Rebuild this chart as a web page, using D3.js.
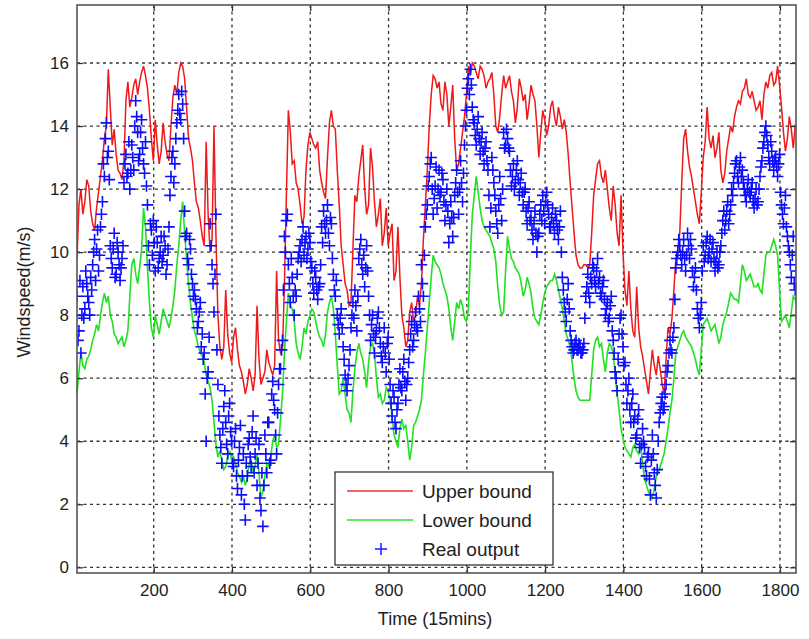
<!DOCTYPE html>
<html>
<head>
<meta charset="utf-8">
<script src="https://cdn.jsdelivr.net/npm/d3@7"></script>
<style>
  html, body { margin: 0; padding: 0; background: #fff; }
  svg { display: block; font-family: "Liberation Sans", Arial, sans-serif; }
</style>
</head>
<body>
<svg id="chart" width="809" height="639"></svg>
<script>
// ---------------- DATA ----------------
const xTicks = [200, 400, 600, 800, 1000, 1200, 1400, 1600, 1800];
const yTicks = [0, 2, 4, 6, 8, 10, 12, 14, 16];
const seriesNames = ["Upper bound", "Lower bound", "Real output"];
const startTime = 4;
const lineStep = 5;    // time step of the merged bound series (15-min samples)
const pointStep = 2.5; // time step of the merged real output samples

// Upper bound at t = 4, 14, 24, ...
const upperBound = [
  9.8, 12.0, 11.6, 12.1, 10.9, 11.4, 12.4, 13.6, 15.8, 13.4,
  13.1, 12.5, 12.9, 15.4, 14.9, 15.5, 15.4, 15.9, 15.2, 13.6,
  14.2, 12.8, 14.1, 13.1, 14.0, 15.3, 15.7, 15.9, 14.6, 13.3,
  12.2, 11.4, 10.5, 13.5, 10.0, 14.0, 8.0, 6.6, 8.8, 6.8,
  7.3, 6.9, 6.2, 5.5, 6.3, 5.6, 8.3, 5.8, 6.2, 6.5,
  6.1, 9.4, 6.8, 9.0, 14.5, 12.8, 12.2, 11.5, 11.1, 13.4,
  13.6, 13.3, 12.6, 11.9, 13.0, 14.5, 13.9, 11.5, 9.6, 8.8,
  8.4, 11.8, 12.4, 13.4, 11.2, 13.3, 11.6, 11.2, 10.2, 11.4,
  10.6, 9.1, 10.8, 8.0, 7.0, 8.1, 7.8, 8.6, 9.0, 11.5,
  14.0, 15.6, 15.2, 14.7, 15.4, 14.0, 15.3, 12.6, 13.3, 14.3,
  15.9, 16.0, 15.7, 15.9, 15.6, 15.4, 15.7, 14.0, 14.3, 15.6,
  15.4, 15.1, 14.1, 15.5, 14.8, 14.2, 15.3, 14.8, 13.0, 14.5,
  13.7, 14.6, 14.3, 14.6, 13.9, 13.8, 12.2, 10.6, 9.6, 9.5,
  9.6, 9.6, 11.8, 12.8, 12.4, 12.6, 11.4, 12.1, 10.6, 11.8,
  8.8, 9.4, 7.5, 8.9, 7.0, 6.3, 5.5, 6.9, 6.1, 6.3,
  5.5, 7.6, 7.9, 9.8, 10.6, 13.6, 13.2, 12.4, 11.6, 10.9,
  13.0, 14.6, 13.3, 13.0, 13.8, 12.2, 13.2, 14.0, 14.3, 14.8,
  15.1, 15.5, 14.9, 14.8, 14.6, 14.2, 15.4, 15.6, 15.3, 15.9,
  14.6, 13.2, 14.3, 13.3, 13.9
];
// Upper bound at t = 9, 19, 29, ...
const upperBoundMid = [
  11.5, 11.2, 12.3, 11.3, 10.7, 11.9, 12.9, 14.0, 14.6, 13.9,
  12.6, 12.3, 14.8, 14.6, 15.3, 15.0, 15.7, 15.6, 14.5, 12.9,
  13.4, 13.2, 13.5, 12.9, 14.9, 15.0, 16.0, 15.5, 13.6, 12.9,
  11.6, 11.0, 10.2, 11.2, 10.4, 10.5, 7.0, 7.0, 7.4, 6.5,
  7.6, 6.4, 5.9, 5.8, 6.0, 6.1, 6.6, 6.0, 6.9, 6.3,
  6.4, 7.2, 6.9, 11.8, 13.8, 12.9, 12.0, 10.9, 12.6, 13.8,
  13.4, 13.5, 12.2, 11.7, 14.1, 14.0, 12.6, 10.2, 9.0, 8.3,
  10.1, 11.6, 12.9, 12.0, 11.5, 12.7, 10.8, 11.7, 10.6, 10.2,
  10.9, 9.4, 9.2, 7.6, 7.2, 8.4, 8.0, 8.3, 10.4, 12.6,
  15.0, 15.5, 15.4, 14.5, 15.0, 14.6, 13.6, 12.8, 13.8, 15.0,
  15.6, 15.9, 15.5, 15.8, 15.2, 15.5, 15.0, 13.8, 15.0, 15.2,
  15.6, 14.8, 14.6, 15.2, 15.0, 14.7, 15.0, 14.0, 13.8, 14.2,
  14.0, 14.8, 14.0, 14.3, 14.2, 13.1, 11.4, 9.9, 9.5, 9.6,
  9.5, 10.6, 12.3, 12.9, 12.2, 12.0, 11.0, 11.5, 10.2, 10.0,
  8.3, 8.2, 7.3, 7.6, 6.7, 5.9, 6.2, 6.4, 6.7, 5.8,
  6.6, 7.4, 8.8, 10.1, 12.2, 13.9, 12.7, 12.0, 11.2, 11.9,
  13.5, 13.6, 13.7, 13.3, 12.6, 12.5, 13.6, 13.8, 14.6, 14.7,
  15.2, 15.0, 15.1, 14.5, 14.8, 15.0, 15.2, 15.7, 15.4, 15.3,
  13.8, 13.6, 13.9, 14.0
];

// Lower bound at t = 4, 14, 24, ...
const lowerBound = [
  5.5, 6.8, 6.3, 6.7, 7.2, 7.7, 8.0, 8.7, 8.6, 7.8,
  7.3, 7.2, 7.0, 7.5, 9.6, 9.3, 9.5, 11.4, 9.5, 7.6,
  8.0, 7.4, 8.2, 7.8, 7.9, 8.8, 10.2, 11.6, 9.8, 8.4,
  7.5, 7.0, 6.7, 6.1, 5.7, 4.6, 3.5, 3.4, 3.2, 3.7,
  3.5, 3.0, 2.7, 2.6, 3.3, 3.0, 3.6, 2.2, 2.9, 3.2,
  4.0, 3.8, 4.7, 6.8, 8.7, 8.2, 7.1, 6.6, 7.6, 7.8,
  8.2, 7.8, 7.3, 7.0, 8.1, 8.6, 7.4, 5.5, 6.0, 5.0,
  4.6, 6.3, 7.1, 6.6, 5.7, 7.0, 6.8, 5.4, 5.2, 5.7,
  5.3, 4.2, 3.8, 4.7, 4.5, 3.4, 4.5, 4.8, 5.3, 6.8,
  8.4, 9.9, 9.6, 9.3, 8.8, 8.2, 7.2, 8.4, 8.5, 7.9,
  8.2, 11.2, 12.4, 11.4, 10.8, 10.6, 10.3, 9.7, 8.3, 8.1,
  10.5, 9.8, 9.5, 9.3, 8.6, 9.2, 8.7, 7.9, 7.7, 8.4,
  8.9, 9.1, 9.3, 8.8, 8.2, 7.4, 7.0, 6.0, 5.4, 5.3,
  5.3, 5.3, 6.9, 7.3, 7.1, 6.2, 7.1, 6.8, 5.5, 4.4,
  3.8, 3.6, 3.8, 3.7, 3.9, 2.8, 2.4, 2.2, 2.9, 3.2,
  3.6, 4.4, 5.3, 6.8, 7.2, 7.5, 7.2, 7.0, 6.6, 6.1,
  7.7, 7.9, 7.5, 7.7, 7.1, 7.7, 8.1, 8.7, 8.5, 8.4,
  9.6, 9.1, 9.3, 8.9, 9.0, 8.7, 9.9, 10.0, 10.4, 9.9,
  7.8, 8.0, 7.6, 8.6, 8.3
];
// Lower bound at t = 9, 19, 29, ...
const lowerBoundMid = [
  6.2, 6.4, 6.6, 6.9, 7.4, 7.5, 8.4, 8.4, 8.0, 7.4,
  7.1, 7.3, 7.2, 8.6, 9.8, 9.0, 10.1, 10.8, 8.4, 7.3,
  7.7, 7.8, 8.0, 7.6, 8.3, 9.6, 11.0, 10.6, 9.0, 7.9,
  7.3, 6.8, 6.5, 5.9, 5.3, 3.9, 3.7, 3.1, 3.5, 3.4,
  3.3, 2.9, 2.9, 2.8, 3.4, 3.2, 3.0, 2.4, 3.3, 3.5,
  4.2, 3.9, 5.5, 7.8, 8.3, 7.8, 6.8, 7.0, 7.4, 8.0,
  8.1, 7.5, 7.2, 7.4, 8.4, 8.2, 6.4, 5.6, 5.5, 4.9,
  5.6, 6.8, 6.8, 6.2, 6.5, 7.1, 6.0, 5.5, 5.3, 5.6,
  4.8, 4.0, 4.4, 4.4, 4.0, 3.8, 4.6, 5.0, 6.1, 7.6,
  9.2, 9.7, 9.5, 9.0, 8.6, 7.6, 7.8, 8.2, 8.3, 7.8,
  9.8, 11.8, 11.9, 11.0, 10.7, 10.5, 10.1, 8.9, 8.0, 9.4,
  10.1, 9.7, 9.4, 9.0, 8.8, 9.0, 8.2, 7.8, 8.0, 8.7,
  9.0, 9.1, 9.1, 8.5, 7.8, 7.2, 6.5, 5.6, 5.3, 5.3,
  5.3, 6.1, 7.2, 7.0, 6.6, 6.8, 7.0, 6.1, 5.0, 4.1,
  3.7, 3.5, 3.9, 3.6, 3.3, 2.6, 2.3, 2.5, 3.0, 3.4,
  4.0, 4.9, 6.0, 7.0, 7.4, 7.3, 7.1, 6.8, 6.3, 6.9,
  7.8, 7.7, 7.6, 7.4, 7.3, 7.9, 8.4, 8.6, 8.5, 9.0,
  9.4, 9.2, 9.1, 8.9, 8.8, 9.3, 10.0, 10.2, 10.2, 8.8,
  7.9, 7.8, 8.1, 8.5
];

// Real output at t = 4, 9, 14, ...
const realOutput = [
  8.6, 7.5, 6.8, 8.9,   8.2, 9.0, 8.4, 9.2,   9.6, 10.4, 10.1, 9.4,
  10.8, 11.6, 12.4, 14.1,   13.2, 10.2, 9.5, 10.6,   9.3, 10.0, 9.1, 9.8,
  12.2, 13.1, 12.5, 12.0,   13.4, 12.6, 14.8, 13.8,   13.1, 14.2, 12.8, 13.5,
  11.5, 9.6, 10.7, 11.0,   9.4, 10.3, 9.8, 10.5,   9.9, 10.2, 9.6, 10.8,
  12.4, 13.2, 12.8, 14.1,   15.0, 14.2, 14.7, 11.3,   10.6, 9.6, 10.1, 9.0,
  8.8, 8.2, 7.8, 8.4,   7.4, 6.8, 4.0, 6.2,   10.9, 9.6, 8.1, 11.2,
  5.8, 4.2, 3.3, 5.1,   4.6, 3.6, 5.2, 4.0,   3.2, 4.4, 2.5, 3.8,
  2.3, 3.6, 1.5, 2.9,   4.1, 3.2, 4.8, 3.6,   2.6, 3.9, 1.8, 1.3,
  4.2, 3.0, 4.6, 3.4,   5.9, 5.0, 3.6, 5.8,   6.3, 7.2, 10.5, 11.0,
  9.6, 8.4, 9.2, 8.0,   8.6, 9.8, 10.2, 10.4,   9.9, 10.5, 10.1, 10.3,
  9.5, 8.7, 9.2, 8.5,   9.0, 10.8, 11.3, 10.6,   11.5, 10.2, 10.9, 9.3,
  8.6, 8.0, 7.4, 8.2,   7.0, 6.1, 5.6, 6.4,   7.6, 8.4, 8.8, 7.5,
  9.8, 10.4, 9.3, 8.9,   10.2, 8.6, 7.2, 8.0,   6.8, 7.5, 8.1, 7.1,
  6.5, 7.6, 6.2, 7.3,   5.8, 4.8, 5.4, 4.4,   5.2, 6.3, 5.6, 6.6,
  5.3, 6.0, 6.9, 7.8,   7.2, 8.1, 7.5, 8.2,   9.6, 8.6, 10.8, 11.5,
  12.4, 13.0, 11.2, 12.1,   11.4, 12.6, 11.9, 12.3,   11.0, 12.0, 10.3, 11.6,
  10.5, 11.8, 12.6, 11.2,   12.9, 11.6, 13.4, 14.5,   15.5, 15.8, 14.6, 14.1,
  13.4, 14.3, 13.1, 13.8,   12.8, 13.5, 12.6, 10.8,   13.0, 12.2, 11.3, 10.6,
  12.4, 11.0, 13.8, 13.4,   13.6, 13.2, 12.1, 12.8,   12.2, 12.9, 11.8, 12.5,
  11.5, 12.0, 10.9, 11.6,   11.1, 10.4, 11.3, 10.0,   10.6, 11.5, 11.8, 10.9,
  11.9, 11.2, 10.8, 11.4,   10.6, 11.0, 10.4, 11.3,   9.2, 8.4, 7.8, 9.0,
  7.5, 7.0, 6.9, 7.2,   6.9, 7.0, 6.8, 7.1,   8.6, 9.3, 8.4, 9.0,
  9.5, 8.9, 9.8, 9.2,   8.6, 9.1, 8.0, 8.4,   7.9, 8.6, 7.2, 6.2,
  5.6, 7.4, 8.0, 7.0,   6.5, 5.2, 6.0, 4.6,   5.5, 4.8, 4.2, 5.0,
  3.3, 4.4, 3.8, 2.9,   3.6, 2.3, 4.2, 3.0,   2.2, 4.0, 4.9, 5.4,
  5.1, 5.8, 6.4, 7.2,   6.8, 7.6, 9.5, 10.0,   10.2, 9.6, 10.4, 9.4,
  10.6, 9.8, 10.1, 8.9,   9.5, 8.2, 7.6, 8.4,   10.2, 9.9, 10.5, 10.0,
  9.7, 10.3, 9.4, 10.0,   9.6, 10.2, 11.0, 10.7,   11.3, 10.9, 11.5, 11.8,
  12.5, 12.9, 12.2, 13.0,   12.6, 12.0, 11.6, 12.3,   11.8, 12.2, 11.4, 12.0,
  11.6, 12.4, 12.9, 13.5,   14.0, 13.4, 12.8, 13.2,   12.6, 13.0, 12.4, 13.1,
  11.5, 10.9, 11.8, 10.5,   10.0, 9.2, 10.5, 8.8
];
// Real output at t = 6.5, 11.5, 16.5, ...
const realOutputMid = [
  7.2, 9.1, 8.0, 7.9,   9.4, 8.6, 8.0, 8.8,   10.0, 9.1, 10.7, 9.9,
  11.2, 12.8, 13.6, 13.0,   12.3, 9.8, 10.1, 9.2,   10.3, 9.6, 9.5, 10.2,
  12.8, 12.4, 13.5, 12.6,   13.0, 14.0, 14.3, 12.9,   13.8, 13.3, 12.5, 12.1,
  10.2, 10.9, 9.9, 10.3,   10.8, 9.5, 10.0, 9.7,   10.5, 9.3, 10.1, 11.8,
  13.0, 12.2, 13.6, 14.5,   14.4, 15.1, 13.6, 10.5,   9.8, 10.4, 9.3, 8.6,
  8.5, 7.6, 8.1, 7.0,   6.6, 5.5, 6.0, 7.3,   10.2, 9.0, 9.3, 6.9,
  4.8, 3.8, 4.4, 5.6,   3.9, 4.8, 4.3, 3.3,   4.0, 2.9, 3.4, 4.5,
  2.9, 2.0, 3.3, 3.9,   3.5, 4.3, 3.0, 4.1,   3.3, 2.2, 3.0, 2.6,
  3.6, 4.6, 3.3, 5.5,   5.3, 4.2, 4.9, 6.3,   6.9, 8.8, 10.0, 11.2,
  9.0, 9.8, 8.6, 8.8,   9.3, 10.0, 9.7, 10.8,   10.3, 9.8, 10.6, 9.7,
  9.0, 9.4, 8.8, 8.9,   9.6, 10.3, 10.9, 11.0,   10.6, 11.1, 9.8, 8.8,
  9.1, 7.7, 7.9, 7.6,   6.6, 5.8, 6.0, 6.9,   8.0, 7.9, 8.3, 8.6,
  10.1, 9.6, 9.9, 9.5,   9.4, 8.0, 7.7, 7.4,   7.3, 7.9, 7.6, 6.7,
  7.0, 6.8, 7.1, 6.6,   5.2, 5.6, 4.6, 5.0,   5.8, 5.7, 6.2, 5.9,
  5.8, 6.5, 7.4, 7.0,   7.7, 7.6, 8.6, 7.8,   9.0, 9.9, 11.2, 12.1,
  12.8, 12.0, 11.7, 12.7,   12.0, 11.8, 12.5, 11.6,   11.5, 11.3, 10.9, 11.1,
  11.1, 12.2, 11.9, 12.0,   12.2, 12.5, 14.0, 15.2,   15.0, 15.3, 14.2, 13.7,
  13.9, 13.6, 13.5, 13.2,   13.3, 12.9, 11.8, 11.4,   12.6, 11.8, 10.9, 11.5,
  11.7, 12.0, 13.3, 13.9,   13.3, 12.6, 12.4, 12.0,   12.6, 12.3, 12.2, 11.9,
  11.9, 11.3, 11.4, 11.0,   10.7, 10.9, 10.6, 10.5,   11.2, 11.0, 11.3, 11.6,
  11.5, 10.8, 11.1, 10.9,   11.2, 10.7, 10.8, 10.0,   8.8, 8.1, 8.5, 8.2,
  7.2, 6.8, 7.1, 6.9,   7.1, 6.8, 6.9, 7.9,   8.9, 8.7, 9.2, 9.6,
  9.1, 9.4, 9.0, 8.7,   8.9, 8.5, 8.2, 7.8,   8.3, 7.5, 6.8, 6.0,
  6.6, 7.9, 7.4, 6.4,   5.8, 5.6, 5.0, 5.2,   4.6, 4.1, 4.7, 3.8,
  3.9, 4.0, 3.2, 3.5,   2.8, 3.4, 3.6, 2.6,   3.1, 4.6, 5.2, 5.0,
  5.5, 6.2, 6.8, 6.9,   7.3, 8.5, 9.8, 10.4,   9.9, 10.0, 9.8, 9.9,
  10.2, 10.4, 9.4, 9.2,   8.8, 7.9, 8.0, 9.4,   9.7, 10.3, 9.8, 10.4,
  10.1, 9.8, 9.7, 9.5,   10.0, 10.6, 11.3, 11.0,   11.6, 11.2, 12.0, 12.2,
  12.8, 12.4, 12.7, 12.4,   12.2, 11.8, 12.0, 11.9,   12.0, 11.6, 11.7, 11.5,
  12.0, 12.7, 13.3, 13.8,   13.7, 13.0, 13.5, 12.9,   12.9, 12.7, 12.8, 11.9,
  11.2, 11.4, 10.8, 10.2,   9.6, 9.9, 9.0, 9.4
];

// merge the two sample sets of each series into one time-ordered list
const interleave = (a, b) => a.flatMap((v, i) => (i < b.length ? [v, b[i]] : [v]));
const toPoints = (vals, step) => vals.map((v, i) => [startTime + i * step, v]);
const upperPts = toPoints(interleave(upperBound, upperBoundMid), lineStep);
const lowerPts = toPoints(interleave(lowerBound, lowerBoundMid), lineStep);
const realPts = toPoints(interleave(realOutput, realOutputMid), pointStep);

// ---------------- CHART ----------------
const svg = d3.select("#chart");
const plot = { left: 77, right: 796, top: 5, bottom: 573 };

const x = d3.scaleLinear().domain([4, 1841]).range([plot.left, plot.right]);
const y = d3.scaleLinear().domain([-0.18, 17.84]).range([plot.bottom, plot.top]);

svg.append("defs").append("clipPath").attr("id", "clip")
  .append("rect")
  .attr("x", plot.left).attr("y", plot.top)
  .attr("width", plot.right - plot.left).attr("height", plot.bottom - plot.top);

// grid
const grid = svg.append("g").attr("stroke", "#333").attr("stroke-width", 1.3)
  .attr("stroke-dasharray", "3,3.5");
grid.selectAll("line.v").data(xTicks).join("line").attr("class", "v")
  .attr("x1", d => x(d)).attr("x2", d => x(d))
  .attr("y1", plot.top).attr("y2", plot.bottom);
grid.selectAll("line.h").data(yTicks).join("line").attr("class", "h")
  .attr("y1", d => y(d)).attr("y2", d => y(d))
  .attr("x1", plot.left).attr("x2", plot.right);

// series
const data = svg.append("g").attr("clip-path", "url(#clip)");
const line = d3.line().x(d => x(d[0])).y(d => y(d[1]));
data.append("path").datum(upperPts).attr("d", line)
  .attr("fill", "none").attr("stroke", "#f01818").attr("stroke-width", 1.5);
data.append("path").datum(lowerPts).attr("d", line)
  .attr("fill", "none").attr("stroke", "#22e022").attr("stroke-width", 1.6);

const armLen = 5.8;
data.selectAll("path.pt").data(realPts).join("path").attr("class", "pt")
  .attr("d", d => `M${x(d[0]) - armLen},${y(d[1])}h${2 * armLen}M${x(d[0])},${y(d[1]) - armLen}v${2 * armLen}`)
  .attr("stroke", "#0c0cff").attr("stroke-width", 1.6).attr("fill", "none");

// axes with inward ticks (all four sides)
const axisStyle = g => {
  g.select(".domain").remove();
  g.selectAll(".tick line").attr("stroke", "#333").attr("stroke-width", 1.3);
  g.selectAll(".tick text").attr("fill", "#222").style("font-size", "17px")
    .style("font-family", "'Liberation Sans', Arial, sans-serif");
};
svg.append("g").attr("transform", `translate(0,${plot.bottom})`)
  .call(d3.axisBottom(x).tickValues(xTicks).tickSize(-6).tickPadding(11).tickFormat(d3.format("d")))
  .call(axisStyle);
svg.append("g").attr("transform", `translate(${plot.left},0)`)
  .call(d3.axisLeft(y).tickValues(yTicks).tickSize(-6).tickPadding(8).tickFormat(d3.format("d")))
  .call(axisStyle);
svg.append("g").attr("transform", `translate(0,${plot.top})`)
  .call(d3.axisTop(x).tickValues(xTicks).tickSize(-6).tickFormat(""))
  .call(axisStyle);
svg.append("g").attr("transform", `translate(${plot.right},0)`)
  .call(d3.axisRight(y).tickValues(yTicks).tickSize(-6).tickFormat(""))
  .call(axisStyle);

// frame
svg.append("rect")
  .attr("x", plot.left).attr("y", plot.top)
  .attr("width", plot.right - plot.left).attr("height", plot.bottom - plot.top)
  .attr("fill", "none").attr("stroke", "#555").attr("stroke-width", 1.6);

// axis titles
svg.append("text").attr("x", 435).attr("y", 625).attr("text-anchor", "middle")
  .attr("fill", "#222").style("font-size", "18px").text("Time (15mins)");
svg.append("text").attr("transform", "translate(30,292) rotate(-90)")
  .attr("text-anchor", "middle").attr("fill", "#222").style("font-size", "18px")
  .text("Windspeed(m/s)");

// legend
const lg = svg.append("g");
lg.append("rect").attr("x", 335).attr("y", 472).attr("width", 218).attr("height", 93)
  .attr("fill", "#fff").attr("stroke", "#333").attr("stroke-width", 1.3);
const legendColors = ["#f03030", "#33e033", "#1a1aff"];
seriesNames.forEach((name, i) => {
  const cy = 491 + i * 29;
  if (i < 2) {
    lg.append("line").attr("x1", 347).attr("x2", 413).attr("y1", cy).attr("y2", cy)
      .attr("stroke", legendColors[i]).attr("stroke-width", 1.5);
  } else {
    lg.append("path").attr("d", `M${381 - 6},${cy}h12M381,${cy - 6}v12`)
      .attr("stroke", legendColors[i]).attr("stroke-width", 1.5);
  }
  lg.append("text").attr("x", 422).attr("y", cy + 6.5).attr("fill", "#222")
    .style("font-size", "19px").text(name);
});
</script>
</body>
</html>
